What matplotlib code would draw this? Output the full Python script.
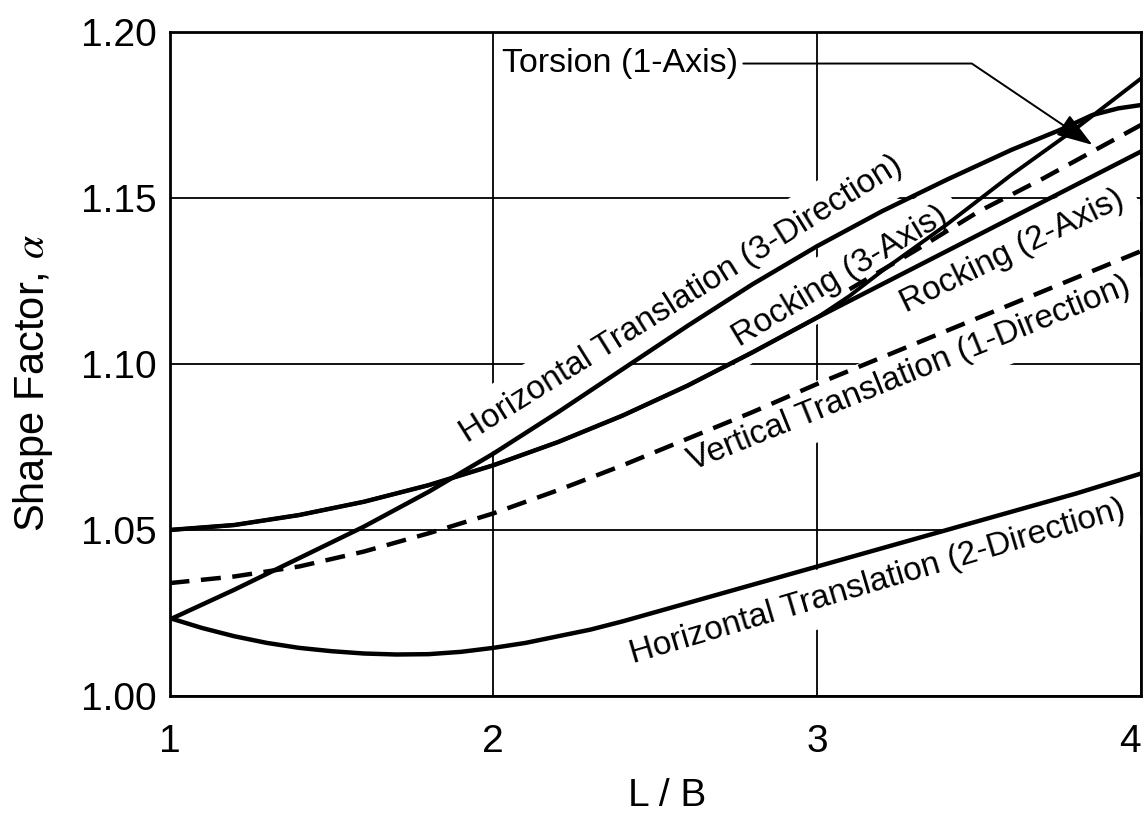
import numpy as np
import matplotlib
matplotlib.use('Agg')
import matplotlib.pyplot as plt

plt.rcParams['font.family'] = ['Liberation Sans', 'DejaVu Sans']
plt.rcParams['mathtext.fontset'] = 'stix'

# curve readings (L/B, shape factor alpha)
lb_ht3 = [1.0, 1.2, 1.4, 1.6, 1.8, 2.0, 2.2, 2.4, 2.6, 2.8, 3.0, 3.2, 3.4, 3.6, 3.75, 3.85, 3.93, 4.0]
a_ht3 = [1.023, 1.032, 1.0415, 1.051, 1.0615, 1.073, 1.0855, 1.0985, 1.1115, 1.124, 1.1355, 1.146,
         1.1555, 1.1645, 1.1705, 1.175, 1.177, 1.178]

lb_rock2 = [1.0, 1.2, 1.4, 1.6, 1.8, 2.0, 2.2, 2.4, 2.6, 2.8, 3.0, 3.2, 3.4, 3.6, 3.8, 4.0]
a_rock2 = [1.050, 1.0515, 1.0545, 1.0585, 1.0635, 1.0695, 1.0765, 1.0845, 1.0935, 1.1035, 1.114,
           1.124, 1.134, 1.144, 1.154, 1.164]

lb_rock3 = [1.0, 1.2, 1.4, 1.6, 1.8, 2.0, 2.2, 2.4, 2.6, 2.8, 3.0, 3.1, 3.2, 3.4, 3.6, 3.8, 4.0]
a_rock3 = [1.050, 1.0515, 1.0545, 1.0585, 1.0635, 1.0695, 1.0765, 1.0845, 1.0935, 1.1035, 1.114,
           1.1205, 1.128, 1.142, 1.157, 1.171, 1.186]

lb_tor = [3.1, 3.3, 3.5, 3.7, 3.85, 4.0]
a_tor = [1.1225, 1.134, 1.146, 1.156, 1.164, 1.172]

lb_vert = [1.0, 1.2, 1.4, 1.6, 1.8, 2.0, 2.2, 2.4, 2.6, 2.8, 3.0, 3.2, 3.4, 3.6, 3.8, 4.0]
a_vert = [1.034, 1.036, 1.039, 1.0435, 1.049, 1.055, 1.062, 1.0695, 1.0775, 1.0855, 1.094,
          1.102, 1.110, 1.118, 1.126, 1.134]

lb_ht2 = [1.0, 1.05, 1.1, 1.2, 1.3, 1.4, 1.5, 1.6, 1.7, 1.8, 1.9, 2.0, 2.1, 2.2, 2.3, 2.4,
          2.6, 2.8, 3.0, 3.2, 3.4, 3.6, 3.8, 4.0]
a_ht2 = [1.0235, 1.022, 1.0205, 1.018, 1.016, 1.0145, 1.0135, 1.0128, 1.0125, 1.0126, 1.0133,
         1.0145, 1.016, 1.018, 1.020, 1.0225, 1.028, 1.0335, 1.039, 1.0445, 1.050, 1.0555,
         1.061, 1.067]

x_ticks = [1, 2, 3, 4]
y_ticks = [1.00, 1.05, 1.10, 1.15, 1.20]

fig = plt.figure(figsize=(11.45, 8.15), dpi=100)
ax = fig.add_axes([169.5 / 1145, 1 - 696 / 815, (1141 - 169.5) / 1145, (696 - 32) / 815])

ax.set_xlim(1, 4)
ax.set_ylim(1.0, 1.2)
ax.set_xticks(x_ticks)
ax.set_xticklabels([str(v) for v in x_ticks])
ax.set_yticks(y_ticks)
ax.set_yticklabels([f'{v:.2f}' for v in y_ticks])
ax.tick_params(axis='both', length=0, labelsize=28)
ax.tick_params(axis='x', pad=20)
ax.tick_params(axis='y', pad=9)
# last x label sits inside the right edge, as on the scan
ax.get_xticklabels()[-1].set_horizontalalignment('right')
ax.grid(True, color='black', linewidth=1.3, zorder=1)
ax.set_axisbelow(True)
for sp in ax.spines.values():
    sp.set_linewidth(2.0)
    sp.set_zorder(4)

ax.set_xlabel('L / B', fontsize=28)
ax.xaxis.set_label_coords(0.512, -0.124)
ax.set_ylabel(r'Shape Factor, $\alpha$', fontsize=30)
ax.yaxis.set_label_coords(-0.118, 0.471)

# curves
lw = 3.2
dash = (0, (4.5, 2.6))
ax.plot(lb_ht3, a_ht3, color='black', lw=lw, zorder=3)
ax.plot(lb_rock2, a_rock2, color='black', lw=lw, zorder=3)
ax.plot(lb_rock3, a_rock3, color='black', lw=2.8, zorder=3)
ax.plot(lb_tor, a_tor, color='black', lw=lw, zorder=3, linestyle=dash)
ax.plot(lb_vert, a_vert, color='black', lw=lw, zorder=3, linestyle=dash)
ax.plot(lb_ht2, a_ht2, color='black', lw=lw, zorder=3)

# curve labels, white box hides the grid behind them
box = dict(boxstyle='square,pad=0.4', fc='white', ec='none')
lab_kw = dict(fontsize=24, ha='left', va='baseline', rotation_mode='anchor', zorder=2, bbox=box)
ax.text(1.921, 1.0762, 'Horizontal Translation (3-Direction)', rotation=32, **lab_kw)
ax.text(2.761, 1.1051, 'Rocking (3-Axis)', rotation=31, **lab_kw)
ax.text(3.273, 1.1154, 'Rocking (2-Axis)', rotation=26, **lab_kw)
ax.text(2.616, 1.0678, 'Vertical Translation (1-Direction)', rotation=22, **lab_kw)
ax.text(2.431, 1.0099, 'Horizontal Translation (2-Direction)', rotation=16.5, **lab_kw)

tip_lb = 3.85
tip_a = np.interp(tip_lb, lb_tor, a_tor) + 0.002
ax.annotate('Torsion (1-Axis)', xy=(tip_lb, tip_a), xytext=(2.026, 1.1905),
            fontsize=24.5, ha='left', va='center', zorder=5,
            arrowprops=dict(arrowstyle='-|>,head_length=0.9,head_width=0.3',
                            connectionstyle='angle,angleA=0,angleB=146,rad=0',
                            color='black', lw=1.4, shrinkA=2, shrinkB=0,
                            mutation_scale=25))

fig.savefig('out.png', dpi=100, facecolor='white')
